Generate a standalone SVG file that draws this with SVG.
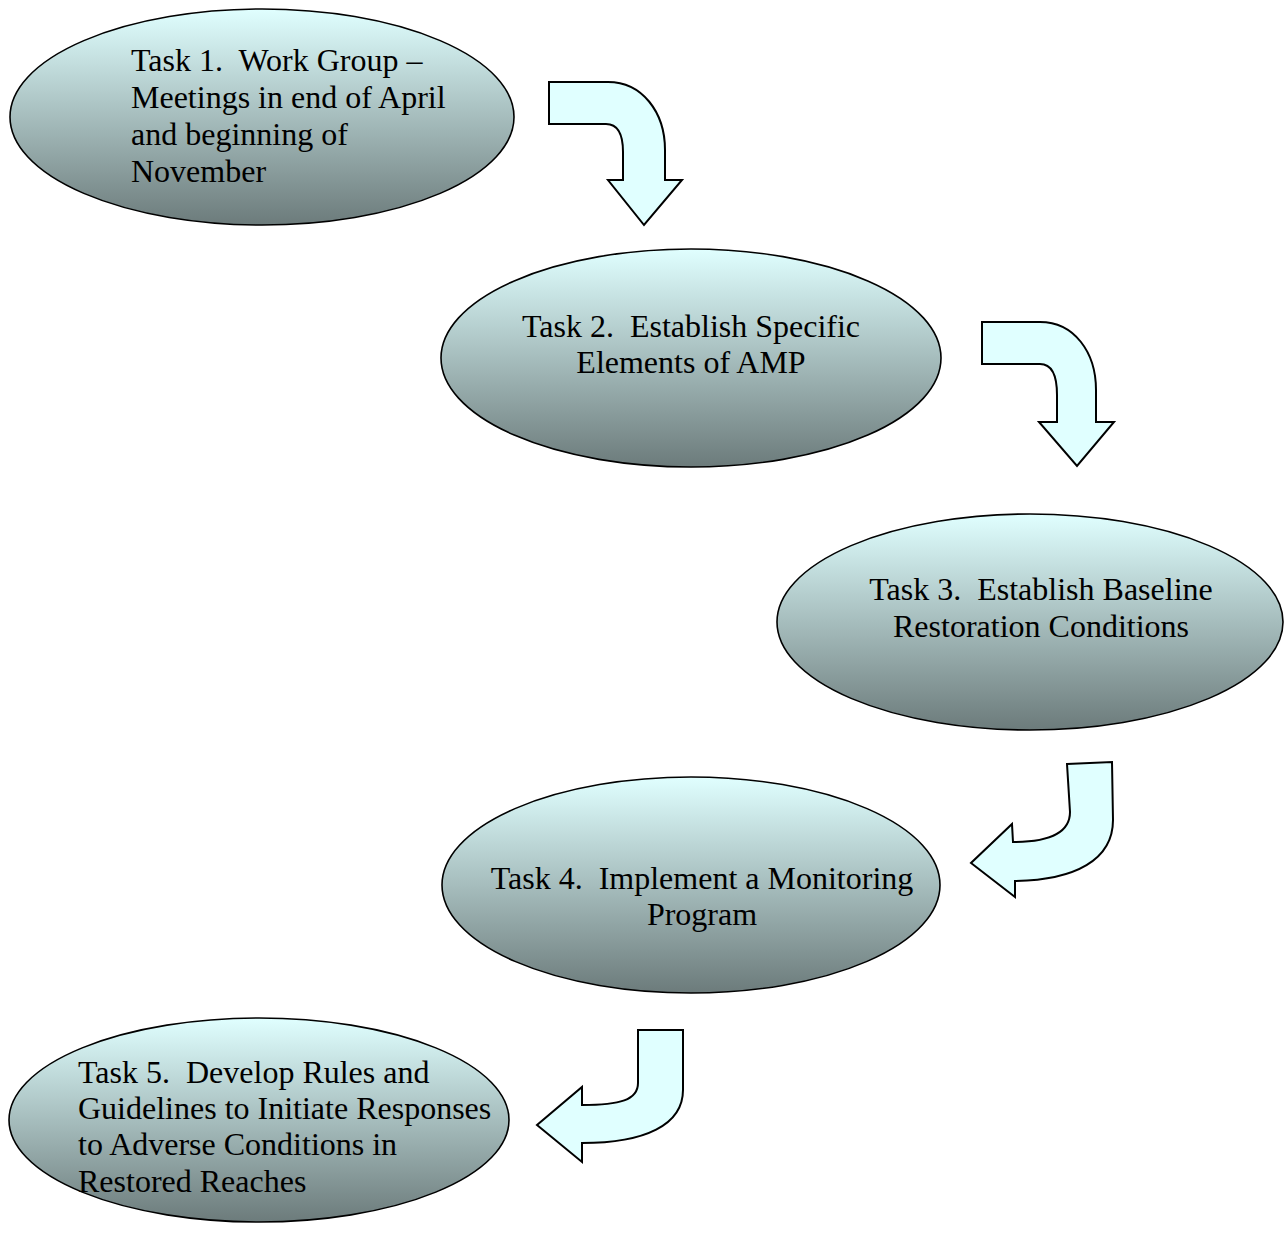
<svg xmlns="http://www.w3.org/2000/svg" width="1288" height="1234" viewBox="0 0 1288 1234" xml:space="preserve">
  <defs>
    <linearGradient id="ellFill" x1="0" y1="0" x2="0" y2="1">
      <stop offset="0" stop-color="#E0FFFF"/>
      <stop offset="1" stop-color="#6C7B7B"/>
    </linearGradient>
    <style>
      .node ellipse { fill: url(#ellFill); stroke: #000; stroke-width: 1.6; }
      .node text { font-family: "Liberation Serif", "Times New Roman", serif; font-size: 32px; fill: #000; white-space: pre; }
      .mid { text-anchor: middle; }
      .arrow { fill: #E0FFFF; stroke: #000; stroke-width: 2; stroke-linejoin: miter; }
    </style>
  </defs>
  <rect width="1288" height="1234" fill="#fff"/>

  <g id="connectors">
    <path class="arrow" d="M549,82 L608,82 C642,82 665,112 665,150 L665,180 L682,180 L644,225 L608,180 L623,180 L623,152 C623,134 618,124 606,124 L549,124 Z"/>
    <path class="arrow" d="M982,322 L1040,322 C1074,322 1096,352 1096,390 L1096,422 L1114,422 L1077,466 L1039,422 L1057,422 L1057,395 C1057,376 1052,364 1040,364 L982,364 Z"/>
    <path class="arrow" d="M1067,764 L1112,762 L1113,820 C1113,860 1075,880 1015,881 L1015,897 L971,863 L1012,824 L1013,842 C1050,842 1070,833 1070,812 Z"/>
    <path class="arrow" d="M638,1030 L683,1030 L683,1090 C683,1125 645,1143 582,1143 L582,1162 L537,1125 L582,1087 L582,1105 C620,1105 638,1100 638,1083 Z"/>
  </g>

  <g id="task1" class="node">
    <ellipse cx="262" cy="117" rx="252" ry="108"/>
    <text x="131" y="71">Task 1.  Work Group –</text>
    <text x="131" y="108">Meetings in end of April</text>
    <text x="131" y="145">and beginning of</text>
    <text x="131" y="182">November</text>
  </g>

  <g id="task2" class="node">
    <ellipse cx="691" cy="358" rx="250" ry="109"/>
    <text class="mid" x="691" y="337">Task 2.  Establish Specific</text>
    <text class="mid" x="691" y="373">Elements of AMP</text>
  </g>

  <g id="task3" class="node">
    <ellipse cx="1030" cy="622" rx="253" ry="108"/>
    <text class="mid" x="1041" y="600">Task 3.  Establish Baseline</text>
    <text class="mid" x="1041" y="637">Restoration Conditions</text>
  </g>

  <g id="task4" class="node">
    <ellipse cx="691" cy="885" rx="249" ry="108"/>
    <text class="mid" x="702" y="889">Task 4.  Implement a Monitoring</text>
    <text class="mid" x="702" y="925">Program</text>
  </g>

  <g id="task5" class="node">
    <ellipse cx="259" cy="1120" rx="250" ry="102"/>
    <text x="78" y="1083">Task 5.  Develop Rules and</text>
    <text x="78" y="1119">Guidelines to Initiate Responses</text>
    <text x="78" y="1155">to Adverse Conditions in</text>
    <text x="78" y="1192">Restored Reaches</text>
  </g>
</svg>
